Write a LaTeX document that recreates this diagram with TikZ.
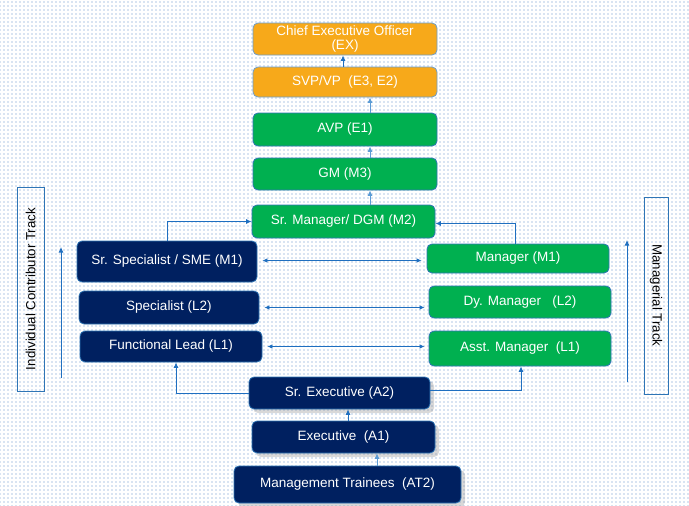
\documentclass[tikz,border=0pt]{standalone}
\usepackage{fontspec}
\setmainfont{Liberation Sans}
\usetikzlibrary{arrows.meta,shadows,patterns}
\definecolor{navy}{HTML}{002060}
\definecolor{grn}{HTML}{00B050}
\definecolor{orng}{HTML}{F7A91A}
\definecolor{edge}{HTML}{2E75B6}
\definecolor{arr}{HTML}{1F6FC0}
\definecolor{arrl}{HTML}{5B9BD5}
\definecolor{dotc}{HTML}{5F8CCB}
\pgfdeclarepatternformonly{bgdots}{\pgfqpoint{-1pt}{-1pt}}{\pgfqpoint{1pt}{1pt}}{\pgfqpoint{4pt}{4pt}}{\pgfpathcircle{\pgfqpoint{0pt}{0pt}}{0.7pt}\pgfusepath{fill}}
\tikzset{
  box/.style={draw=edge, line width=0.8pt, rounded corners=5pt, text=white, align=center,
    font=\fontsize{13.5}{15}\selectfont, inner sep=1pt},
  navybox/.style={box, fill=navy},
  grnbox/.style={box, fill=grn},
  orbox/.style={box, fill=orng, draw=edge!70},
  trackbox/.style={draw=edge, line width=0.8pt, inner sep=0pt},
  tracktext/.style={font=\fontsize{13.3}{15}\selectfont, inner sep=0pt},
  arw/.style={draw=arr, line width=0.9pt, -{Latex[length=5.5pt,width=5pt]}},
  arwl/.style={draw=arrl, line width=0.9pt, -{Latex[length=5.5pt,width=5pt]}},
  darw/.style={draw=arr, line width=0.8pt, {Latex[length=5pt,width=4.5pt]}-{Latex[length=5pt,width=4.5pt]}},
  shad/.style={drop shadow={opacity=0.3, shadow xshift=4pt, shadow yshift=-4pt}},
}
\begin{document}
\begin{tikzpicture}[x=1pt,y=-1pt]
\useasboundingbox (0,0) rectangle (689,506);
\fill[white] (0,0) rectangle (689,506);
\fill[pattern=bgdots, pattern color=dotc] (0,0) rectangle (689,506);

% top chain
\node[orbox, minimum width=184, minimum height=32] (ceo) at (345,39) {Chief Executive Officer\\[-1pt](EX)};
\node[orbox, minimum width=184, minimum height=30] (svp) at (345,82) {SVP/VP\ \ (E3, E2)};
\node[grnbox, minimum width=184, minimum height=33] (avp) at (345,129.5) {AVP (E1)};
\node[grnbox, minimum width=184, minimum height=32] (gm) at (345,174) {GM (M3)};
\node[grnbox, minimum width=183, minimum height=33] (srm) at (343.5,221.5) {Sr. Manager/ DGM (M2)};

% left column
\node[navybox, minimum width=180, minimum height=41] (sme) at (167,261.5) {Sr. Specialist / SME (M1)};
\node[navybox, minimum width=180, minimum height=33] (spec) at (169,307.5) {Specialist (L2)};
\node[navybox, minimum width=182, minimum height=31] (fl) at (171,346.5) {Functional Lead (L1)};

% right column
\node[grnbox, minimum width=182, minimum height=29] (mgr) at (518,258.5) {Manager (M1)};
\node[grnbox, minimum width=182, minimum height=32] (dym) at (520,302) {Dy. Manager\ \ \ (L2)};
\node[grnbox, minimum width=182, minimum height=35] (asm) at (520,348.5) {Asst. Manager\ \ (L1)};

% bottom
\node[navybox, shad, minimum width=181, minimum height=32] (sre) at (339.5,393) {Sr. Executive (A2)};
\node[navybox, shad, minimum width=183, minimum height=32] (exe) at (343.5,437) {Executive\ \ (A1)};
\node[navybox, shad, minimum width=227, minimum height=37] (mt) at (347.5,484.5) {Management Trainees\ \ (AT2)};

% track labels
\node[trackbox, minimum width=27, minimum height=204] (ict) at (30.5,289) {};
\node[tracktext, rotate=90] (ictl) at (ict.center) {Individual Contributor Track};
\node[trackbox, minimum width=24, minimum height=197] (mtr) at (656,295.5) {};
\node[tracktext, rotate=-90] (mtrl) at (mtr.center) {Managerial Track};

% track arrows
\coordinate (la1) at (61,378);
\coordinate (la2) at (61,247);
\coordinate (ra1) at (627,382);
\coordinate (ra2) at (627,240);
\draw[arw] (la1) -- (la2);
\draw[arw] (ra1) -- (ra2);

% top chain arrows
\draw[arw] ([xshift=-2]svp.north) -- ([xshift=-2]ceo.south);
\draw[arwl] ([xshift=25]avp.north) -- ([xshift=25]avp.north |- svp.south);
\draw[arwl] ([xshift=25]gm.north) -- ([xshift=25]gm.north |- avp.south);
\draw[arwl] ([xshift=26.5]srm.north) -- ([xshift=26.5]srm.north |- gm.south);

% to Sr. Manager
\draw[arw] (sme.north) |- (srm.west);
\draw[arw] ([xshift=-3]mgr.north) |- ([yshift=-2]srm.east);

% cross links
\draw[darw, shorten <=5pt, shorten >=5pt] ([yshift=1]sme.east) -- ([yshift=1]sme.east -| mgr.west);
\draw[darw, shorten <=5pt, shorten >=4pt] (spec.east) -- (spec.east -| dym.west);
\draw[darw, shorten <=5pt, shorten >=4pt] (fl.east) -- (fl.east -| asm.west);

% bottom arrows
\draw[arw] (sre.west) -| ([xshift=5]fl.south);
\draw[arw] ([yshift=3]sre.east) -| ([xshift=1]asm.south);
\draw[arw] ([xshift=4.5]exe.north) -- ([xshift=4.5]exe.north |- sre.south);
\draw[arwl] ([xshift=29.5]mt.north) -- ([xshift=29.5]mt.north |- exe.south);
\end{tikzpicture}
\end{document}
